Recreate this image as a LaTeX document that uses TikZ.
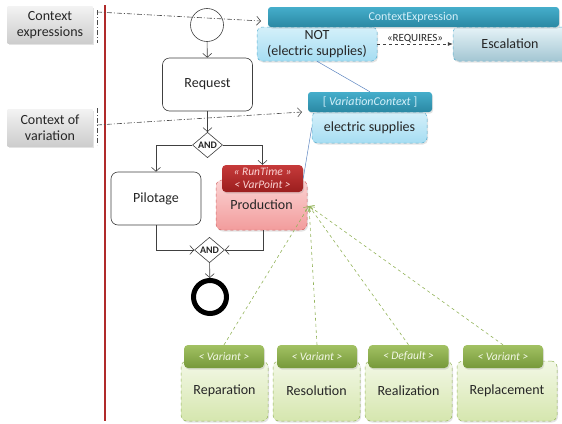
\documentclass[tikz,border=0pt]{standalone}
\usepackage{fontspec}
\setmainfont{Carlito}
\usetikzlibrary{shapes.geometric,arrows.meta,shadows,calc}
\definecolor{teal1}{HTML}{45AECB}
\definecolor{teal2}{HTML}{2A88A3}
\definecolor{lb1}{HTML}{D4F0FA}
\definecolor{lb2}{HTML}{A6DDF2}
\definecolor{lbd}{HTML}{5AAFCF}
\definecolor{esc1}{HTML}{E6F3F7}
\definecolor{esc2}{HTML}{A3C6D3}
\definecolor{red1}{HTML}{C63A3A}
\definecolor{red2}{HTML}{9B1E1E}
\definecolor{pink1}{HTML}{FBD3D3}
\definecolor{pink2}{HTML}{F29C9C}
\definecolor{pinkd}{HTML}{D06464}
\definecolor{grn1}{HTML}{A2C163}
\definecolor{grn2}{HTML}{76993A}
\definecolor{lg1}{HTML}{F3F8E6}
\definecolor{lg2}{HTML}{D5E6AE}
\definecolor{grnd}{HTML}{93B35A}
\definecolor{redline}{HTML}{B02A2A}
\definecolor{bline}{HTML}{5B84C0}
\begin{document}
\begin{tikzpicture}[x=1pt,y=-1pt,
  every node/.style={font=\fontsize{14}{16.5}\selectfont, text=black!85},
  shad/.style={drop shadow={shadow xshift=1pt, shadow yshift=-1.5pt, opacity=0.22}},
  graylbl/.style={rectangle, minimum width=85pt, minimum height=37pt, top color=gray!10, bottom color=gray!40, align=center, inner sep=1pt, shad},
  actbox/.style={draw=black!75, rounded corners=7pt, fill=white, minimum width=90pt, minimum height=53pt, line width=0.6pt},
  andd/.style={diamond, draw=black!75, fill=white, line width=0.6pt, minimum width=30pt, minimum height=25pt, inner sep=0pt, font=\fontsize{10}{10}\selectfont\bfseries},
  flow/.style={draw=black!75, line width=0.6pt, -{Straight Barb[length=4pt,width=9pt]}},
  ctxline/.style={draw=black!70, line width=0.6pt, dash pattern=on 5pt off 2pt on 1pt off 2pt},
  ctxarrow/.style={ctxline, -{Straight Barb[length=4pt,width=9pt]}},
  bluehead/.style={rectangle, rounded corners=3pt, top color=teal1, bottom color=teal2, inner sep=1pt, font=\fontsize{12}{14}\selectfont, text=lb1, shad},
  bluebody/.style={rectangle, rounded corners=5pt, draw=lbd, dashed, line width=0.5pt, top color=lb1, bottom color=lb2, inner sep=1pt, align=center, shad},
  escbox/.style={rectangle, rounded corners=5pt, draw=lbd, dashed, line width=0.5pt, top color=esc1, bottom color=esc2, inner sep=1pt, shad},
  prodbody/.style={rectangle, rounded corners=6pt, draw=pinkd, dashed, line width=0.5pt, top color=pink1, bottom color=pink2, inner sep=1pt, minimum width=91pt, minimum height=50pt, shad},
  prodhead/.style={rectangle, rounded corners=4pt, top color=red1, bottom color=red2, inner sep=1pt, align=center, minimum width=81pt, minimum height=27pt, font=\fontsize{11.5}{13}\selectfont\itshape, text=pink1, shad},
  varhead/.style={rectangle, rounded corners=4pt, top color=grn1, bottom color=grn2, inner sep=1pt, minimum width=80pt, minimum height=23pt, font=\fontsize{11.5}{13}\selectfont\itshape, text=lg1, shad},
  varbody/.style={rectangle, rounded corners=6pt, draw=grnd, dashed, line width=0.5pt, top color=lg1, bottom color=lg2, inner sep=1pt, minimum width=87pt, minimum height=60pt, shad},
  varlink/.style={draw=grnd, dashed, line width=0.6pt, -{Straight Barb[length=4pt,width=8pt]}},
  bluelink/.style={draw=bline, line width=0.5pt}
]
\useasboundingbox (0,0) rectangle (562,423);

% left labels
\node[graylbl] (lce) at (50,25) {Context\\expressions};
\node[graylbl] (lcv) at (50,128) {Context of\\variation};

% red swimlane line
\coordinate (rtop) at (105,5);
\coordinate (rbot) at (105,421);
\draw[redline, line width=1.2pt] (rtop) -- (rbot);

% brackets
\coordinate (b1t) at (97,10);
\coordinate (b1b) at (97,43);
\coordinate (b1s) at (97,12);
\coordinate (b2t) at (97,108);
\coordinate (b2b) at (97,145);
\coordinate (b2s) at (97,125);
\draw[ctxline] (b1t) -- (b1b);
\draw[ctxline] (b2t) -- (b2b);

% activity flow
\node[circle, draw=black!75, line width=0.6pt, minimum size=33pt, inner sep=0pt] (start) at (207,25) {};
\node[actbox] (req) at (207.5,84.5) {Request};
\node[andd] (and1) at (207.5,145) {AND};
\node[actbox] (pil) at (156,198.5) {Pilotage};
\node[prodbody] (prodb) at (261.5,205) {Production};
\node[prodhead] (prodh) at (262.5,178.5) {« RunTime »\\< VarPoint >};
\node[andd] (and2) at (209.5,250) {AND};
\node[circle, draw=black, line width=5pt, minimum size=33pt, inner sep=0pt] (end) at (210,297) {};

\draw[flow] (start) -- (req);
\draw[flow] (req) -- (and1);
\draw[flow] (and1.west) -| (pil.north);
\draw[flow] (and1.east) -| (prodh.north);
\draw[flow] (pil.south) |- (and2.west);
\draw[flow] ([xshift=1.5pt]prodb.south) |- (and2.east);
\draw[flow] (and2) -- (end);

% context expression block
\node[escbox, minimum width=114pt, minimum height=34pt] (esc) at (510,44) {Escalation};
\node[bluebody, minimum width=120pt, minimum height=34pt] (notb) at (317,44) {NOT\\(electric supplies)};
\node[bluehead, minimum width=291pt, minimum height=20pt] (ceh) at (413.5,17) {ContextExpression};
\draw[draw=black!75, dashed, line width=0.6pt, -{Latex[length=5pt,width=4pt]}] (notb.east) -- (esc.west)
  node[midway, above=0pt, inner sep=1pt, font=\fontsize{11}{12}\selectfont] {«REQUIRES»};

% variation context
\node[bluebody, minimum width=115pt, minimum height=31pt] (vcb) at (369.5,127.5) {electric supplies};
\node[bluehead, minimum width=124pt, minimum height=20pt] (vch) at (370,102) {[ \textit{VariationContext} ]};

\draw[bluelink] (notb.south) -- (vch.north);
\draw[bluelink] (prodh.east) -- (vcb.west);

% context arrows
\coordinate (cet) at (261,21);
\coordinate (vct) at (302,112);
\draw[ctxarrow] (b1s) -- (cet);
\draw[ctxarrow] (b2s) -- (vct);

% variants
\node[varbody] (v1b) at (224.5,391) {Reparation};
\node[varhead] (v1h) at (224,356.5) {< Variant >};
\node[varbody] (v2b) at (316.5,391) {Resolution};
\node[varhead] (v2h) at (317,356.5) {< Variant >};
\node[varbody] (v3b) at (408.5,391) {Realization};
\node[varhead] (v3h) at (408.5,356.5) {< Default >};
\node[varbody, minimum width=100pt] (v4b) at (507,391) {Replacement};
\node[varhead] (v4h) at (503,356.5) {< Variant >};

\coordinate (ptgt) at (309,206);
\draw[varlink] (v1h.north) -- (ptgt);
\draw[varlink] (v2h.north) -- (ptgt);
\draw[varlink] (v3h.north) -- (ptgt);
\draw[varlink] (v4h.north) -- (ptgt);
\end{tikzpicture}
\end{document}
